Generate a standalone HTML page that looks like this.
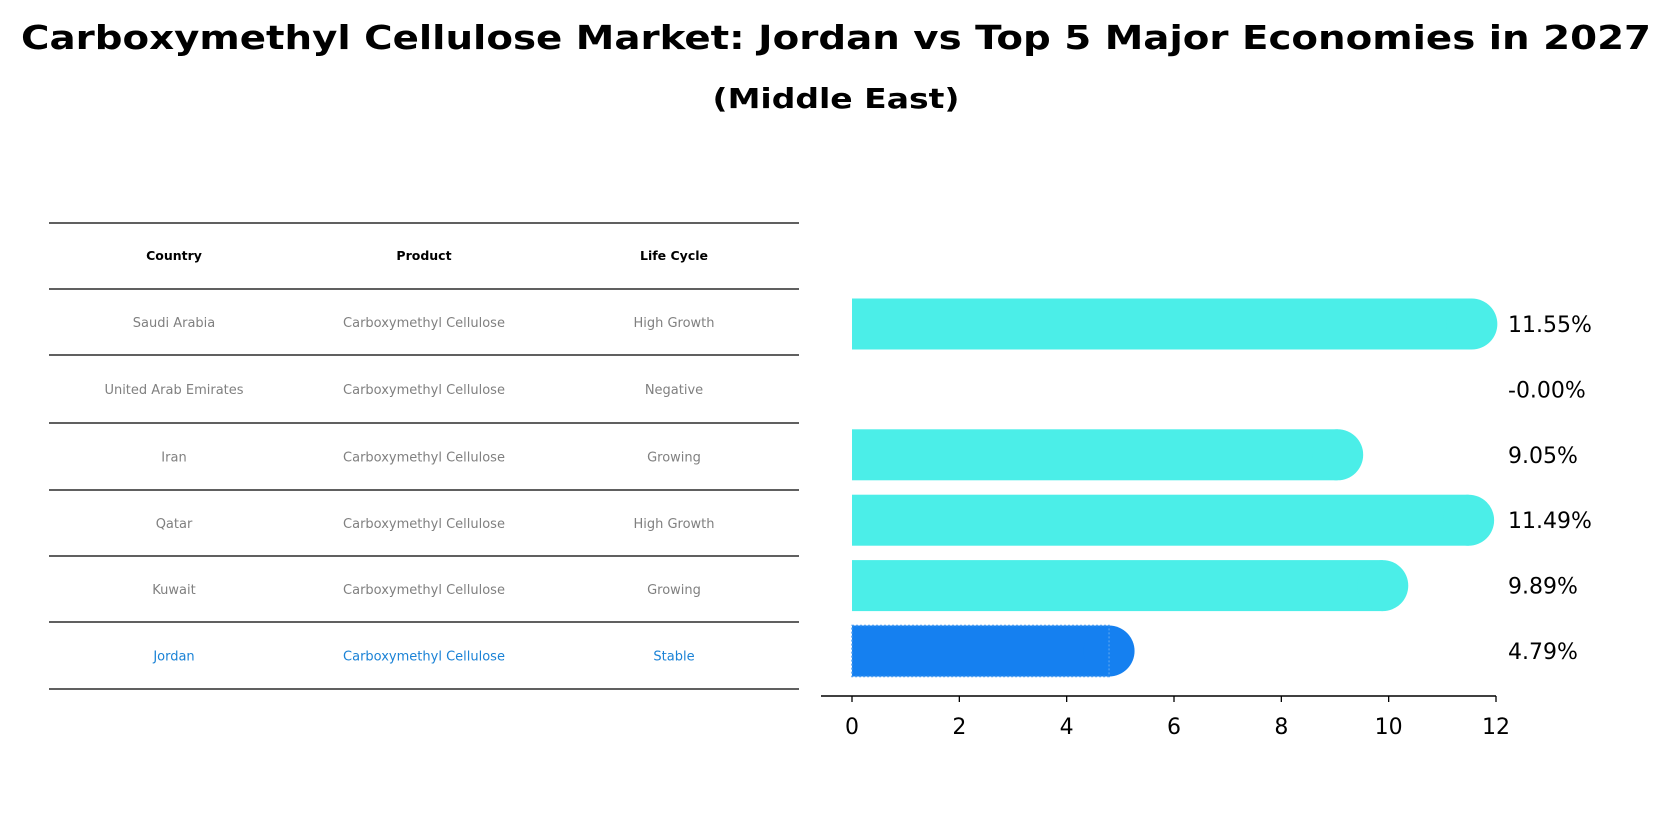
<!DOCTYPE html>
<html><head><meta charset="utf-8"><style>
html,body{margin:0;padding:0;background:#fff;}
svg{display:block;font-family:"DejaVu Sans","Liberation Sans",sans-serif;}
</style></head><body>
<svg width="1673" height="823" viewBox="0 0 1673 823">
<text x="836" y="49" text-anchor="middle" font-size="33" font-weight="bold" textLength="1630" lengthAdjust="spacingAndGlyphs">Carboxymethyl Cellulose Market: Jordan vs Top 5 Major Economies in 2027</text>
<text x="836" y="108" text-anchor="middle" font-size="28" font-weight="bold" textLength="247" lengthAdjust="spacingAndGlyphs">(Middle East)</text>
<g id="table"></g>
<g id="bars"></g>
</svg>
<script>
const countries=["Saudi Arabia","United Arab Emirates","Iran","Qatar","Kuwait","Jordan"];
const products=["Carboxymethyl Cellulose","Carboxymethyl Cellulose","Carboxymethyl Cellulose","Carboxymethyl Cellulose","Carboxymethyl Cellulose","Carboxymethyl Cellulose"];
const lifeCycles=["High Growth","Negative","Growing","High Growth","Growing","Stable"];
const growth=[11.55,-0.00,9.05,11.49,9.89,4.79];
const valueLabels=["11.55%","-0.00%","9.05%","11.49%","9.89%","4.79%"];
const xTicks=[0,2,4,6,8,10,12];
const NS="http://www.w3.org/2000/svg";
function mk(tag,attrs,parent,text){const e=document.createElementNS(NS,tag);for(const k in attrs)e.setAttribute(k,attrs[k]);if(text!==undefined)e.textContent=text;parent.appendChild(e);return e;}
// table
const tg=document.getElementById('table');
const lineYs=[223,289,355,423,490,556,622,689];
const colX=[174,424,674];
lineYs.forEach((y,i)=>{const l=mk('line',{x1:49,x2:799,y1:y,y2:y,stroke:'#000','stroke-width':1.2},tg);

});
["Country","Product","Life Cycle"].forEach((h,j)=>{const t=mk('text',{x:colX[j],y:260,'text-anchor':'middle','font-size':12.5,'font-weight':'bold'},tg,h);

});
countries.forEach((c,i)=>{const y=(lineYs[i+1]+lineYs[i+2])/2+5;const col=c==="Jordan"?'#1a82d6':'#808080';
[c,products[i],lifeCycles[i]].forEach((v,j)=>{const t=mk('text',{x:colX[j],y:y,'text-anchor':'middle','font-size':13,fill:col},tg,v);

});});
// bars
const bg=document.getElementById('bars');
const x0=852,x12=1496,xs=v=>x0+(x12-x0)*v/12;
const axisY=696,rowStart=324,rowStep=65.4,bh=51;
countries.forEach((c,i)=>{const cy=rowStart+i*rowStep;const v=growth[i];const col=c==="Jordan"?'#1580f0':'#4beee8';
if(v>0.001){const g=mk('g',{},bg);


mk('rect',{x:xs(0),y:cy-bh/2,width:xs(v)-xs(0),height:bh,fill:col},g);
mk('circle',{cx:xs(v),cy:cy,r:bh/2,fill:col},g);
if(c==="Jordan")mk('rect',{x:xs(0),y:cy-bh/2,width:xs(v)-xs(0),height:bh,fill:'none',stroke:'#4a9cf0','stroke-width':1.5,'stroke-dasharray':'2 2'},g);}
const t=mk('text',{x:1508,y:cy+8,'font-size':22},bg,valueLabels[i]);

});
const ax=mk('line',{x1:821,x2:1496,y1:axisY,y2:axisY,stroke:'#000','stroke-width':1.5},bg);


xTicks.forEach(v=>{mk('line',{x1:xs(v),x2:xs(v),y1:axisY,y2:axisY+6,stroke:'#000','stroke-width':1.3},bg);
const t=mk('text',{x:xs(v),y:axisY+38,'text-anchor':'middle','font-size':22},bg,String(v));

});
</script>
</body></html>
